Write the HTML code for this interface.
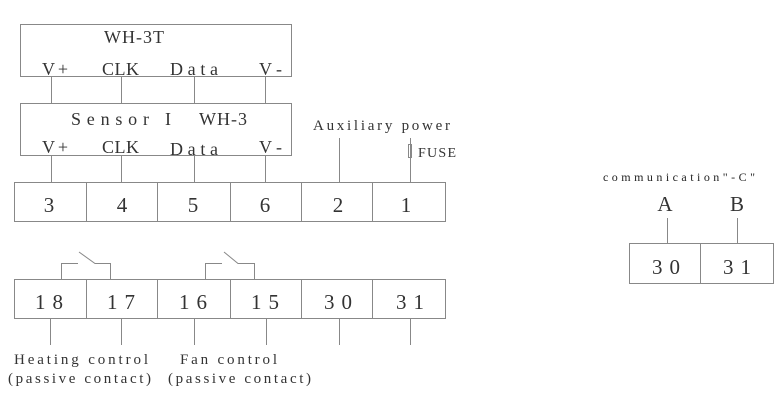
<!DOCTYPE html>
<html><head><meta charset="utf-8"><style>
html,body{margin:0;padding:0;background:#fff;width:780px;height:400px;overflow:hidden}
svg{display:block}
text{font-family:"Liberation Serif",serif;fill:#333}
</style></head><body>
<svg width="780" height="400" viewBox="0 0 780 400" xmlns="http://www.w3.org/2000/svg">
<g fill="none" stroke="#888" stroke-width="1">
<rect x="20.5" y="24.5" width="271" height="52"/>
<rect x="20.5" y="103.5" width="271" height="52"/>
<path d="M51.5 76V103M121.5 76V103M194.5 76V103M265.5 76V103"/>
<path d="M51.5 155V182M121.5 155V182M194.5 155V182M265.5 155V182"/>
<rect x="14.5" y="182.5" width="431" height="39"/>
<path d="M86.5 182V221M157.5 182V221M230.5 182V221M301.5 182V221M372.5 182V221"/>
<path d="M339.5 138V182M410.5 138V182"/>
<rect x="408.5" y="144.5" width="3" height="13"/>
<rect x="14.5" y="279.5" width="431" height="39"/>
<path d="M86.5 279V319M157.5 279V319M230.5 279V319M301.5 279V319M372.5 279V319"/>
<path d="M61.5 279V263.5H78M79 252L95 263.5H110.5V279"/>
<path d="M205.5 279V263.5H222M224 252L238 263.5H254.5V279"/>
<path d="M50.5 319V345M121.5 319V345M194.5 319V345M266.5 319V345M339.5 319V345M410.5 319V345"/>
<rect x="629.5" y="243.5" width="144" height="40"/>
<path d="M700.5 243V283M667.5 218V243M737.5 218V243"/>
</g>
<g font-size="18">
<text x="104" y="43" textLength="60">WH-3T</text>
<text x="42" y="75" textLength="26">V+</text>
<text x="102" y="75" textLength="37">CLK</text>
<text x="170" y="75" textLength="48">Data</text>
<text x="259" y="75" textLength="23">V-</text>
<text x="71" y="125" textLength="100">Sensor I</text>
<text x="199" y="125" textLength="48">WH-3</text>
<text x="42" y="153" textLength="26">V+</text>
<text x="102" y="153" textLength="37">CLK</text>
<text x="170" y="155" textLength="48">Data</text>
<text x="259" y="153" textLength="23">V-</text>
</g>
<text x="313" y="130" font-size="15" textLength="137">Auxiliary power</text>
<text x="418" y="157" font-size="14" textLength="38">FUSE</text>
<g font-size="21" text-anchor="middle">
<text x="49" y="212">3</text><text x="122" y="212">4</text><text x="193" y="212">5</text>
<text x="265" y="212">6</text><text x="338" y="212">2</text><text x="406" y="212">1</text>
</g>
<g font-size="21">
<text x="35" y="309" textLength="28">18</text><text x="107" y="309" textLength="28">17</text>
<text x="179" y="309" textLength="28">16</text><text x="251" y="309" textLength="28">15</text>
<text x="324" y="309" textLength="28">30</text><text x="396" y="309" textLength="28">31</text>
<text x="652" y="274" textLength="28">30</text><text x="723" y="274" textLength="28">31</text>
</g>
<g font-size="15">
<text x="14" y="364" textLength="134">Heating control</text>
<text x="8" y="383" textLength="143">(passive contact)</text>
<text x="180" y="364" textLength="97">Fan control</text>
<text x="168" y="383" textLength="143">(passive contact)</text>
</g>
<text x="603" y="181" font-size="12" textLength="152" style="fill:#222">communication"-C"</text>
<g font-size="21" text-anchor="middle">
<text x="665" y="211">A</text><text x="737" y="211">B</text>
</g>
</svg>
</body></html>
